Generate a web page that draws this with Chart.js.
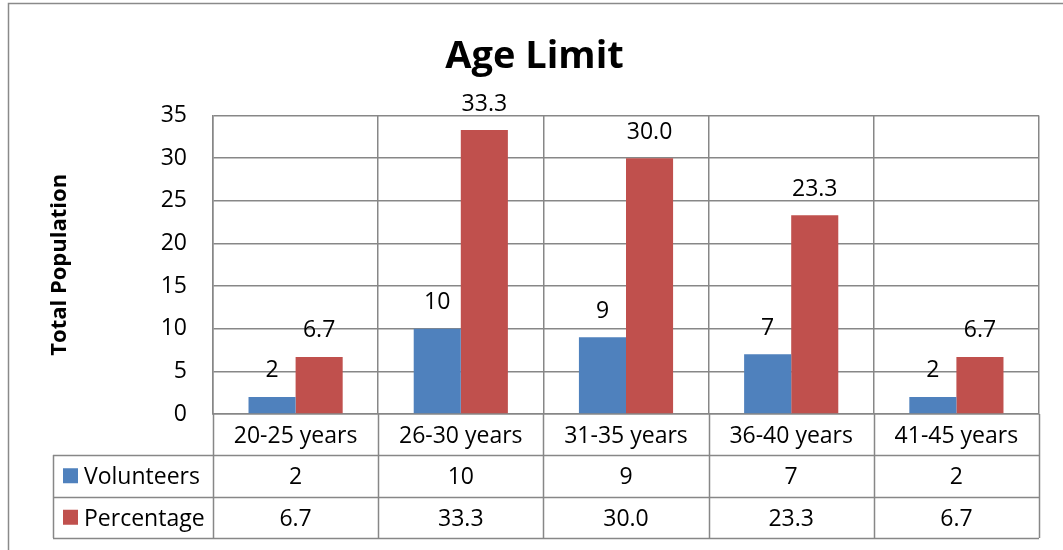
<!DOCTYPE html>
<html>
<head>
<meta charset="utf-8">
<title>Age Limit</title>
<script src="https://cdn.jsdelivr.net/npm/chart.js@4.4.1/dist/chart.umd.min.js"></script>
<style>
  html, body { margin: 0; padding: 0; background: #ffffff; }
  #wrap { position: relative; width: 1063px; height: 550px; }
</style>
</head>
<body>
<div id="wrap"><canvas id="chart" width="1063" height="550"></canvas></div>
<script>
// Age groups and the two series shown per group
const categories = ['20-25 years', '26-30 years', '31-35 years', '36-40 years', '41-45 years'];
const volunteers = [2, 10, 9, 7, 2];
const percentage = [6.7, 33.3, 30.0, 23.3, 6.7];
const seriesNames = ['Volunteers', 'Percentage'];
const yTicks = [0, 5, 10, 15, 20, 25, 30, 35];

const BLUE = '#4F81BD';
const RED = '#C0504D';
const LINE = '#878787';
const FONT = "'Open Sans', sans-serif";

// Value formatting used for bar labels and table cells
const fmt = [v => String(v), v => v.toFixed(1)];

// Data labels above each bar
const barLabels = {
  id: 'barLabels',
  afterDatasetsDraw(chart) {
    const ctx = chart.ctx;
    ctx.save();
    ctx.font = '23px ' + FONT;
    ctx.fillStyle = '#000';
    ctx.textAlign = 'center';
    ctx.textBaseline = 'middle';
    chart.data.datasets.forEach((ds, di) => {
      chart.getDatasetMeta(di).data.forEach((bar, i) => {
        ctx.fillText(fmt[di](ds.data[i]), bar.x, bar.y - 26);
      });
    });
    ctx.restore();
  }
};

// Outer frame plus the data table under the category axis
const dataTable = {
  id: 'dataTable',
  beforeDraw(chart) {
    const ctx = chart.ctx;
    ctx.save();
    ctx.strokeStyle = '#8a8a8a';
    ctx.lineWidth = 1.5;
    ctx.beginPath();
    ctx.moveTo(8.5, 560);
    ctx.lineTo(8.5, 3.5);
    ctx.lineTo(1070, 3.5);
    ctx.stroke();
    ctx.restore();
  },
  afterDraw(chart) {
    const ctx = chart.ctx;
    const x = chart.scales.x;
    const area = chart.chartArea;
    const n = categories.length;
    const half = (x.getPixelForValue(1) - x.getPixelForValue(0)) / 2;
    const right = x.getPixelForValue(n - 1) + half;
    const tableLeft = 53;
    const rowTop = area.bottom + 41;
    const rowH = 41.5;
    const tableBottom = rowTop + rowH * 2;

    ctx.save();
    ctx.strokeStyle = LINE;
    ctx.lineWidth = 1.5;
    ctx.beginPath();
    // column separators through the label row and the table rows
    for (let i = 0; i <= n; i++) {
      const px = Math.round(x.getPixelForValue(i) - half) + 0.5;
      ctx.moveTo(px, area.bottom);
      ctx.lineTo(px, tableBottom);
    }
    // row separators
    for (let r = 0; r <= 2; r++) {
      const py = Math.round(rowTop + r * rowH) + 0.5;
      ctx.moveTo(tableLeft, py);
      ctx.lineTo(right, py);
    }
    ctx.moveTo(tableLeft + 0.5, rowTop);
    ctx.lineTo(tableLeft + 0.5, tableBottom);
    ctx.stroke();

    ctx.font = '23px ' + FONT;
    ctx.textBaseline = 'middle';
    chart.data.datasets.forEach((ds, di) => {
      const cy = rowTop + rowH * di + rowH / 2;
      // legend key and series name
      ctx.fillStyle = ds.backgroundColor;
      ctx.fillRect(tableLeft + 10, cy - 7.5, 15, 15);
      ctx.fillStyle = '#000';
      ctx.textAlign = 'left';
      ctx.fillText(ds.label, tableLeft + 31, cy + 2);
      // values
      ctx.textAlign = 'center';
      ds.data.forEach((v, i) => {
        ctx.fillText(fmt[di](v), x.getPixelForValue(i), cy + 2);
      });
    });
    ctx.restore();
  }
};

new Chart(document.getElementById('chart'), {
  type: 'bar',
  data: {
    labels: categories,
    datasets: [
      { label: seriesNames[0], data: volunteers, backgroundColor: BLUE },
      { label: seriesNames[1], data: percentage, backgroundColor: RED }
    ]
  },
  options: {
    responsive: false,
    devicePixelRatio: 1,
    animation: false,
    events: [],
    layout: { padding: { left: 30, right: 24, top: 0, bottom: 95 } },
    datasets: { bar: { categoryPercentage: 0.57, barPercentage: 1.0 } },
    plugins: {
      legend: { display: false },
      tooltip: { enabled: false },
      title: {
        display: true,
        text: 'Age Limit',
        color: '#000',
        font: { family: FONT, size: 38, weight: 'bold' },
        padding: { top: 34, bottom: 36 }
      }
    },
    scales: {
      x: {
        grid: { color: LINE, lineWidth: 1.5, offset: true, drawTicks: false },
        border: { color: LINE, width: 1.5 },
        ticks: { color: '#000', font: { family: FONT, size: 23 }, padding: 9, maxRotation: 0 },
        afterFit(scale) { scale.height = 41; }
      },
      y: {
        min: 0,
        max: 35,
        afterBuildTicks(scale) { scale.ticks = yTicks.map(v => ({ value: v })); },
        grid: { color: LINE, lineWidth: 1.5, drawTicks: false },
        border: { color: LINE, width: 1.5 },
        ticks: { color: '#000', font: { family: FONT, size: 23 }, padding: 26 },
        title: {
          display: true,
          text: 'Total Population',
          color: '#000',
          font: { family: FONT, size: 22, weight: 'bold' },
          padding: { top: 17, bottom: 0 }
        },
        afterFit(scale) { scale.width = 183; }
      }
    }
  },
  plugins: [barLabels, dataTable]
});
</script>
</body>
</html>
